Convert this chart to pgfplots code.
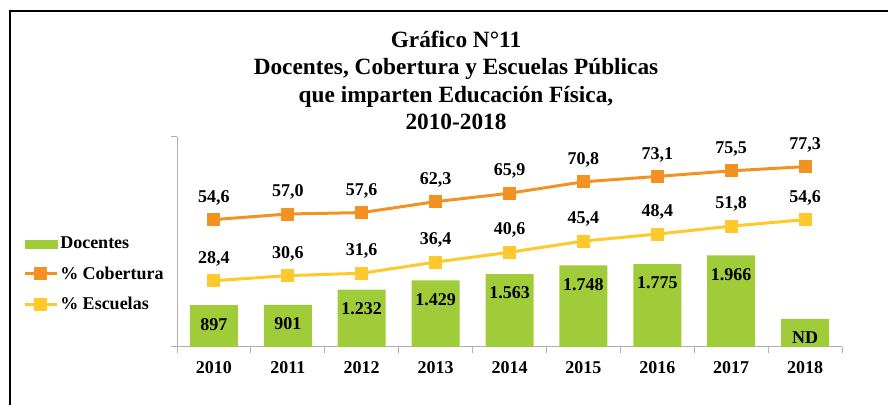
\documentclass[border=0pt]{standalone}
\usepackage{fontspec}
\setmainfont{Liberation Serif}
\usepackage{pgfplots}
\usepackage{pgfplotstable}
\pgfplotsset{compat=1.18}
\definecolor{bargreen}{RGB}{160,204,58}
\definecolor{lorange}{RGB}{243,146,35}
\definecolor{lyellow}{RGB}{255,200,45}
\definecolor{axgray}{RGB}{175,175,175}
\newcommand\lab{\fontsize{18}{20}\selectfont\bfseries}

\pgfplotstableread{
x y label
0 897 897
1 901 901
2 1232 1.232
3 1429 1.429
4 1563 1.563
5 1748 1.748
6 1775 1.775
7 1966 1.966
8 600 ND
}\bardata

\pgfplotstableread{
x y
0 54.6
1 57.0
2 57.6
3 62.3
4 65.9
5 70.8
6 73.1
7 75.5
8 77.3
}\cobertura

\pgfplotstableread{
x y
0 28.4
1 30.6
2 31.6
3 36.4
4 40.6
5 45.4
6 48.4
7 51.8
8 54.6
}\escuelas

\begin{document}
\begin{tikzpicture}
\useasboundingbox (0pt,0pt) rectangle (888pt,404pt);
\draw[line width=1.2pt] (10pt,-20pt) -- (10pt,393pt) -- (900pt,393pt);
\node[font=\fontsize{23.3}{27.3}\selectfont\bfseries, align=center] at (456pt,323.5pt)
  {Gráfico N°11\\Docentes, Cobertura y Escuelas Públicas\\que imparten Educación Física,\\2010-2018};

\begin{axis}[
  at={(177pt,57pt)}, anchor=south west,
  scale only axis, width=665pt, height=210pt,
  xmin=-0.5, xmax=8.5, ymin=0, ymax=4500,
  clip=false,
  axis x line*=bottom, axis y line*=left,
  axis line style={-, axgray, line width=1pt},
  tick style={axgray, line width=1pt},
  tick align=outside, major tick length=6pt,
  xtick={-0.5,0.5,1.5,2.5,3.5,4.5,5.5,6.5,7.5,8.5}, xticklabels={},
  ytick={0,4500}, yticklabels={},
  extra x ticks={0,1,2,3,4,5,6,7,8},
  extra x tick labels={2010,2011,2012,2013,2014,2015,2016,2017,2018},
  extra x tick style={major tick length=0pt},
  xticklabel style={font=\lab, yshift=-11pt},
]
\addplot[ybar, bar width=48pt, fill=bargreen, draw=none,
  nodes near coords, point meta=explicit symbolic,
  every node near coord/.append style={anchor=center, yshift=-19pt, font=\lab, text=black}]
  table[x=x, y=y, meta=label] {\bardata};
\end{axis}

\begin{axis}[
  at={(177pt,57pt)}, anchor=south west,
  scale only axis, width=665pt, height=210pt,
  xmin=-0.5, xmax=8.5, ymin=0, ymax=90,
  hide axis, clip=false,
  /pgf/number format/.cd, fixed, fixed zerofill, precision=1, use comma, assume math mode=true,
  /pgfplots/.cd,
  legend image code/.code={\draw[mark repeat=2, mark phase=2] plot coordinates {(0pt,0pt) (16pt,0pt) (32pt,0pt)};},
  legend style={at={(-0.236,0.543)}, anchor=north west, draw=none, fill=none, font=\lab, row sep=12.5pt},
  legend cell align=left,
]
\addlegendimage{legend image code/.code={\fill[bargreen] (0pt,-4pt) rectangle (32pt,4pt);}}
\addlegendentry{Docentes}
\addplot[lorange, line width=3pt, mark=square*, mark size=5pt, mark options={solid},
  nodes near coords,
  every node near coord/.append style={anchor=center, yshift=22pt, font=\lab, text=black}]
  table[x=x, y=y] {\cobertura};
\addlegendentry{\% Cobertura}
\addplot[lyellow, line width=3pt, mark=square*, mark size=5pt, mark options={solid},
  nodes near coords,
  every node near coord/.append style={anchor=center, yshift=22pt, font=\lab, text=black}]
  table[x=x, y=y] {\escuelas};
\addlegendentry{\% Escuelas}
\end{axis}
\end{tikzpicture}
\end{document}
